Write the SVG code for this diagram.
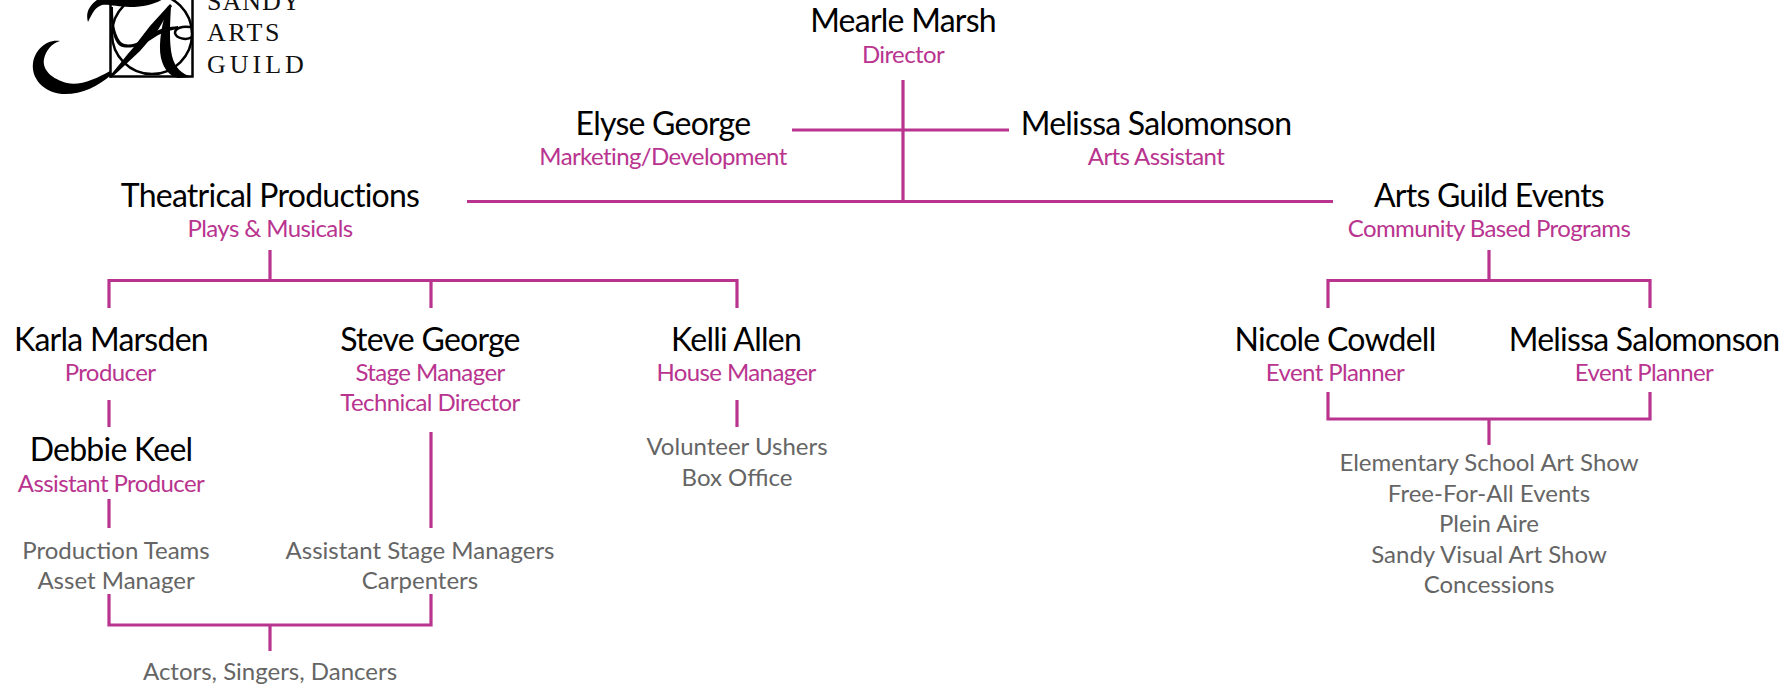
<svg xmlns="http://www.w3.org/2000/svg" width="1791" height="688" viewBox="0 0 1791 688">
<style>
text{font-family:Lato,"Open Sans",sans-serif;text-anchor:middle}
.n{font-size:32px;fill:#000;letter-spacing:-.75px}
.r{font-size:24px;fill:#b9348f;letter-spacing:-.6px}
.g{font-size:24px;fill:#656565}
.l{font-family:"Liberation Serif",serif;font-size:26px;fill:#111;text-anchor:start}
#connectors path{fill:none;stroke:#b9348f;stroke-width:3.200}
.k{fill:none;stroke:#000;stroke-width:2.500}
.s{fill:none;stroke:#000;stroke-width:2;stroke-linecap:round}
</style>
<rect width="1791" height="688" fill="#fff"/>
<g id="logo">
<rect class="k" x="110.500" y="-5" width="82" height="81.500"/>
<circle class="k" cx="152" cy="34" r="40"/>
<path d="M60 41C46 39 35 50 33 63C31 78 43 92 62 94C80 95 98 87 112 74L110 71C96 79 80 86 67 83C52 79 42 70 44 59C46 50 52 43 60 41Z" fill="#000"/>
<path d="M88 22C85 12 90 4 100 -2L165 -2C155 4 145 7 130 7C118 7 108 4 102 5C94 8 92 14 88 22Z" fill="#000"/>
<path d="M113 7C113 20 114 32 120 41C128 50 144 40 153 33C160 28 170 27 178 26L178 29C170 30 160 33 152 39C142 46 128 50 120 46C112 40 110 20 111 7Z" fill="#000"/>
<path d="M109 77C118 66 126 56 133 48L150 26L170 4L172 6L158 30L140 51C130 60 120 70 111 78Z" fill="#000"/>
<path d="M168 6C162 22 158 44 161 58C164 70 170 76 178 78L192 77C182 74 175 68 172 56C169 42 170 24 171 6Z" fill="#000"/>
<path d="M190 27C182 26 175 28 175 33C176 38 186 41 192 37" class="s" style="stroke-width:2.500"/>
<text class="l" x="207" y="10" style="letter-spacing:1px">SANDY</text>
<text class="l" x="207" y="41" style="letter-spacing:2.500px">ARTS</text>
<text class="l" x="207" y="73" style="letter-spacing:4px">GUILD</text>
</g>
<g id="connectors">
<path d="M903 80V201.500M792 130H1009M467 201.500H1333"/>
<path d="M109 308V280.500H737V308M270 250V280.500M431 280.500V308"/>
<path d="M1328 308V280.500H1650V308M1489 250V280.500"/>
<path d="M109 400V427M109 499V528M431 432V528M737 400V427"/>
<path d="M109 594V625H431V594M270 625V651"/>
<path d="M1328 392V419H1650V392M1489 419V445"/>
</g>
<g id="mearle"><text class="n" x="903" y="32">Mearle Marsh</text><text class="r" x="903" y="63">Director</text></g>
<g id="elyse"><text class="n" x="663" y="135">Elyse George</text><text class="r" x="663" y="165">Marketing/Development</text></g>
<g id="melissa-a"><text class="n" x="1156" y="135">Melissa Salomonson</text><text class="r" x="1156" y="165">Arts Assistant</text></g>
<g id="theatrical"><text class="n" x="270" y="207">Theatrical Productions</text><text class="r" x="270" y="237">Plays &amp; Musicals</text></g>
<g id="events"><text class="n" x="1489" y="207">Arts Guild Events</text><text class="r" x="1489" y="237">Community Based Programs</text></g>
<g id="karla"><text class="n" x="111" y="350.500">Karla Marsden</text><text class="r" x="110" y="381">Producer</text></g>
<g id="steve"><text class="n" x="430" y="350.500">Steve George</text><text class="r" x="430" y="381">Stage Manager</text><text class="r" x="430" y="411">Technical Director</text></g>
<g id="kelli"><text class="n" x="736" y="350.500">Kelli Allen</text><text class="r" x="736" y="381">House Manager</text></g>
<g id="debbie"><text class="n" x="111" y="461">Debbie Keel</text><text class="r" x="111" y="492">Assistant Producer</text></g>
<g id="nicole"><text class="n" x="1335" y="350.500">Nicole Cowdell</text><text class="r" x="1335" y="381">Event Planner</text></g>
<g id="melissa-e"><text class="n" x="1644" y="350.500">Melissa Salomonson</text><text class="r" x="1644" y="381">Event Planner</text></g>
<g id="ushers"><text class="g" x="737" y="455">Volunteer Ushers</text><text class="g" x="737" y="486">Box Office</text></g>
<g id="teams"><text class="g" x="116" y="559">Production Teams</text><text class="g" x="116" y="589">Asset Manager</text></g>
<g id="asm"><text class="g" x="420" y="559">Assistant Stage Managers</text><text class="g" x="420" y="589">Carpenters</text></g>
<g id="actors"><text class="g" x="270" y="680">Actors, Singers, Dancers</text></g>
<g id="programs"><text class="g" x="1489" y="471">Elementary School Art Show</text><text class="g" x="1489" y="502">Free-For-All Events</text><text class="g" x="1489" y="532">Plein Aire</text><text class="g" x="1489" y="563">Sandy Visual Art Show</text><text class="g" x="1489" y="593">Concessions</text></g>
</svg>
